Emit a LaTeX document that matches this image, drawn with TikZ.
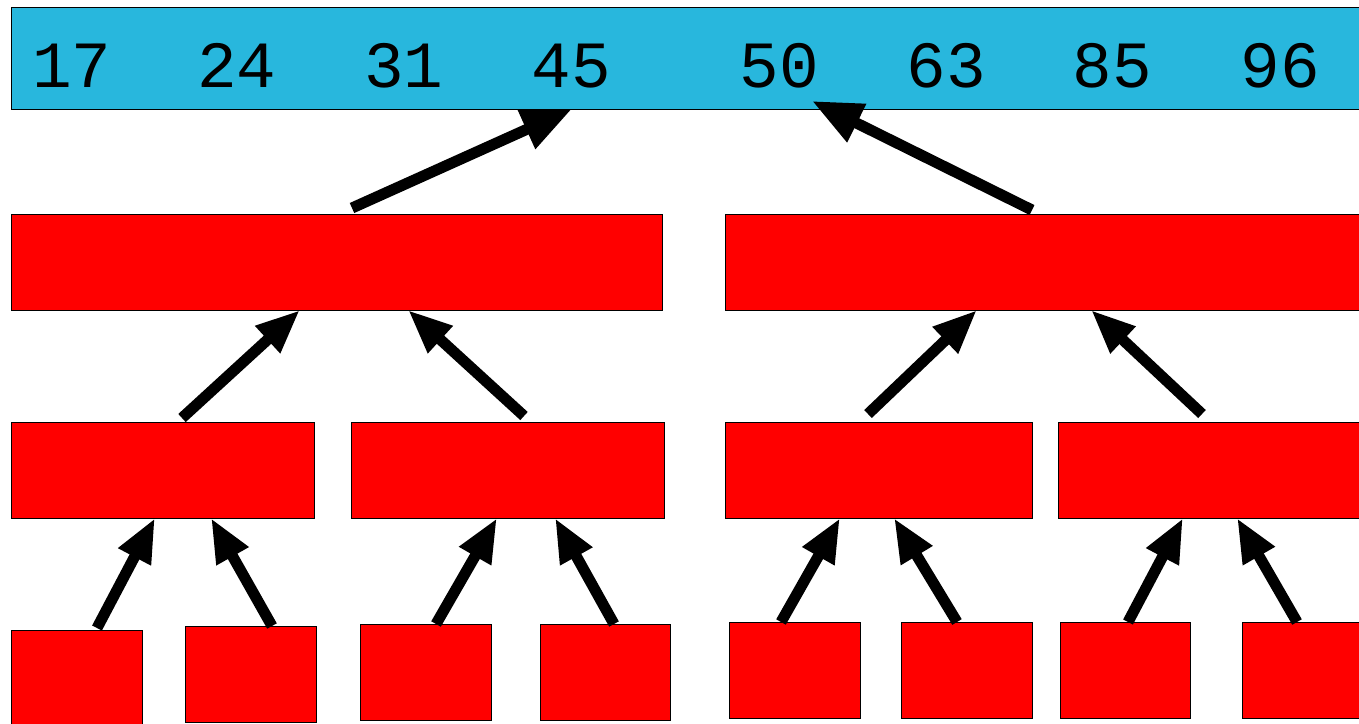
\documentclass[tikz,border=0pt]{standalone}
\usepackage{fontspec}
\setmonofont{Liberation Mono}
\usetikzlibrary{arrows.meta}
\definecolor{barblue}{RGB}{40,183,221}
\definecolor{boxred}{RGB}{255,0,0}
\tikzset{
  bar/.style={draw=black, line width=0.9pt, fill=barblue, anchor=north west, inner sep=0pt, outer sep=0pt},
  redbox/.style={draw=black, line width=0.9pt, fill=boxred, anchor=north west, inner sep=0pt, outer sep=0pt, minimum height=96pt},
  num/.style={anchor=base, inner sep=0pt, font=\ttfamily\fontsize{66pt}{66pt}\selectfont},
  arr/.style={line width=11pt, -{Triangle[length=44pt,width=34pt]}},
  bigarr/.style={line width=11pt, -{Triangle[length=50pt,width=40pt]}}
}
\begin{document}
\begin{tikzpicture}[x=1pt,y=-1pt]
\clip (0,0) rectangle (1359,723);
\fill[white] (0,0) rectangle (1359,723);
% top bar
\node[bar, minimum width=1370pt, minimum height=102pt] (T) at (11,7) {};
\node[num] (n1) at (72,87) {17};
\node[num] (n2) at (237,87) {24};
\node[num] (n3) at (404,87) {31};
\node[num] (n4) at (571,87) {45};
\node[num] (n5) at (779,87) {50};
\node[num] (n6) at (946,87) {63};
\node[num] (n7) at (1112,87) {85};
\node[num] (n8) at (1280,87) {96};
% row 2
\node[redbox, minimum width=651pt] (M1) at (11,214) {};
\node[redbox, minimum width=660pt] (M2) at (725,214) {};
% row 3
\node[redbox, minimum width=303pt] (L1) at (11,422) {};
\node[redbox, minimum width=313pt] (L2) at (351,422) {};
\node[redbox, minimum width=307pt] (L3) at (725,422) {};
\node[redbox, minimum width=320pt] (L4) at (1058,422) {};
% row 4
\node[redbox, minimum width=131pt, minimum height=100pt] (B1) at (11,630) {};
\node[redbox, minimum width=131pt] (B2) at (185,626) {};
\node[redbox, minimum width=131pt] (B3) at (360,624) {};
\node[redbox, minimum width=130pt] (B4) at (540,624) {};
\node[redbox, minimum width=131pt] (B5) at (729,622) {};
\node[redbox, minimum width=131pt] (B6) at (901,622) {};
\node[redbox, minimum width=130pt] (B7) at (1060,622) {};
\node[redbox, minimum width=130pt] (B8) at (1242,622) {};
% arrows row 4 -> row 3
\draw[arr] ([xshift=86pt,yshift=2pt]B1.north west) -- ([xshift=144pt]L1.south west);
\draw[arr] ([xshift=87pt]B2.north west) -- ([xshift=200pt]L1.south west);
\draw[arr] ([xshift=76pt]B3.north west) -- ([xshift=146pt]L2.south west);
\draw[arr] ([xshift=74pt]B4.north west) -- ([xshift=204pt]L2.south west);
\draw[arr] ([xshift=52pt]B5.north west) -- ([xshift=115pt]L3.south west);
\draw[arr] ([xshift=56pt]B6.north west) -- ([xshift=169pt]L3.south west);
\draw[arr] ([xshift=68pt]B7.north west) -- ([xshift=125pt]L4.south west);
\draw[arr] ([xshift=55pt]B8.north west) -- ([xshift=179pt]L4.south west);
% arrows row 3 -> row 2
\draw[arr] ([xshift=171pt,yshift=4pt]L1.north west) -- ([xshift=289pt]M1.south west);
\draw[arr] ([xshift=173pt,yshift=6pt]L2.north west) -- ([xshift=397pt]M1.south west);
\draw[arr] ([xshift=143pt,yshift=8pt]L3.north west) -- ([xshift=252pt]M2.south west);
\draw[arr] ([xshift=144pt,yshift=8pt]L4.north west) -- ([xshift=366pt]M2.south west);
% arrows row 2 -> bar
\draw[bigarr] ([xshift=341pt,yshift=6pt]M1.north west) -- ([xshift=561pt]T.south west);
\draw[bigarr] ([xshift=307pt,yshift=4pt]M2.north west) -- ([xshift=801pt,yshift=8pt]T.south west);
\end{tikzpicture}
\end{document}
